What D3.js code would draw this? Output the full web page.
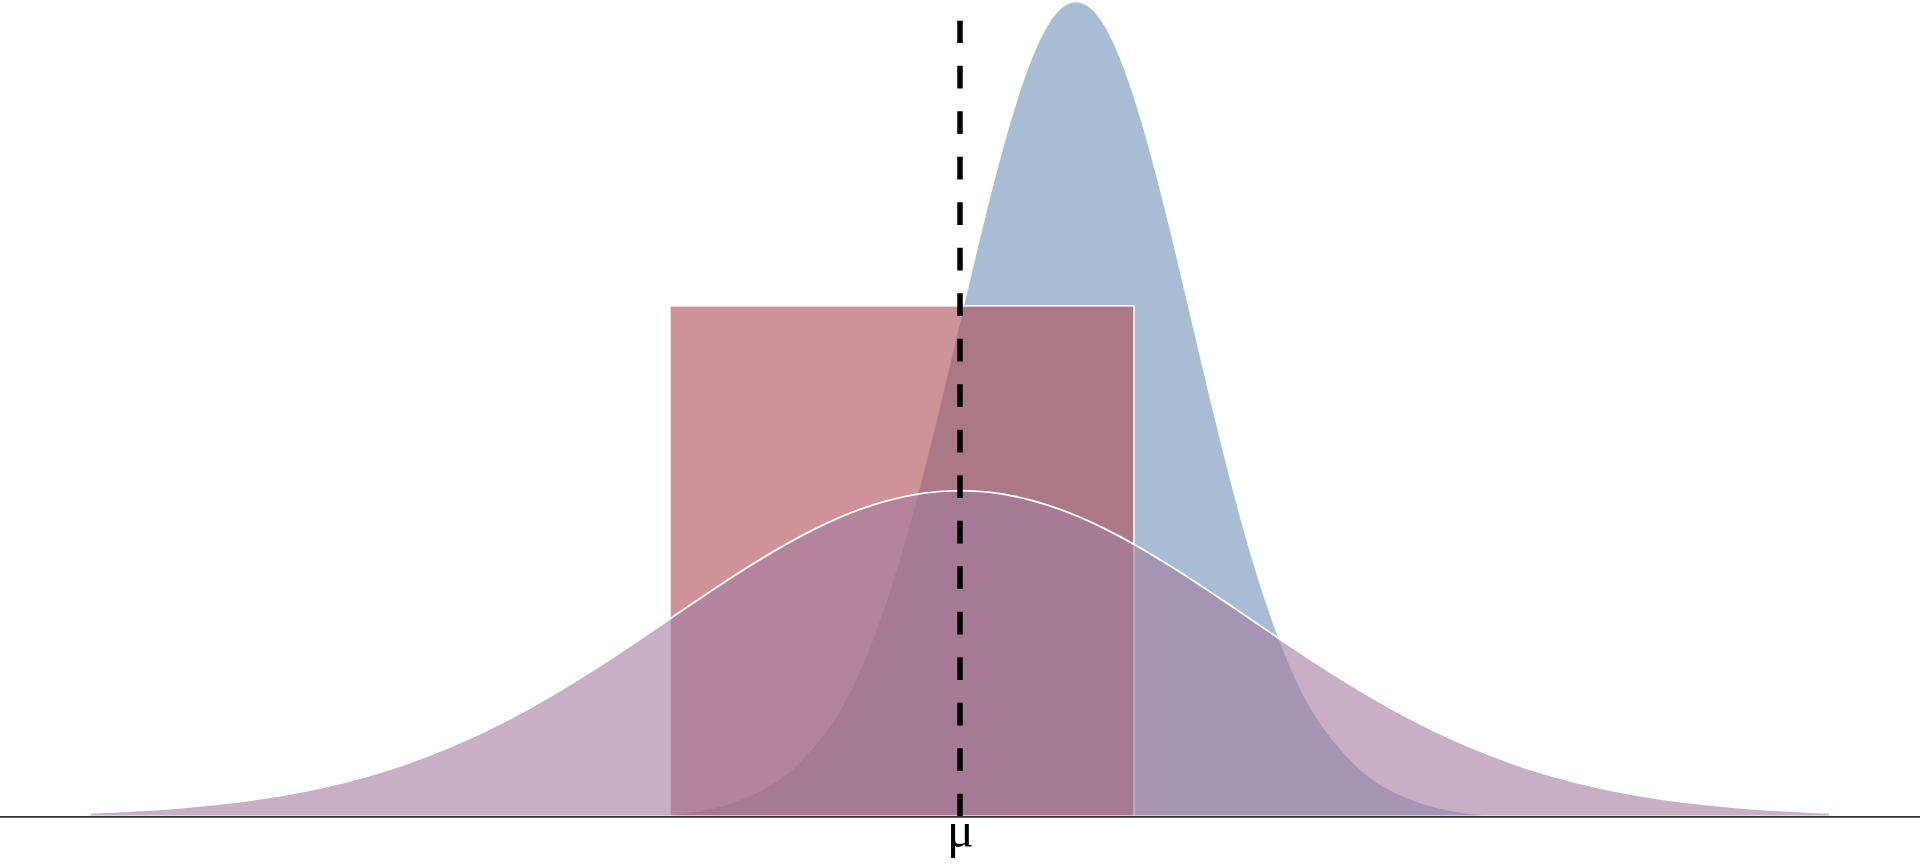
<!DOCTYPE html>
<html>
<head>
<meta charset="utf-8">
<script src="https://cdn.jsdelivr.net/npm/d3@7"></script>
<style>
  html, body { margin: 0; padding: 0; background: #ffffff; overflow: hidden; }
  svg { display: block; }
</style>
</head>
<body>
<svg id="chart" width="1920" height="864"></svg>
<script>
// ---------- data ----------
// wide curve (purple): x positions and heights
const wideX = [-3, -2.75, -2.5, -2.25, -2, -1.75, -1.5, -1.25, -1, -0.75, -0.5, -0.25, 0,
               0.25, 0.5, 0.75, 1, 1.25, 1.5, 1.75, 2, 2.25, 2.5, 2.75, 3];
const wideY = [0.0044, 0.0091, 0.0175, 0.0317, 0.054, 0.0863, 0.1295, 0.1826, 0.242, 0.3011, 0.3521, 0.3867, 0.3989,
               0.3867, 0.3521, 0.3011, 0.242, 0.1826, 0.1295, 0.0863, 0.054, 0.0317, 0.0175, 0.0091, 0.0044];

// narrow curve (blue): x positions and heights
const narrowX = [-1.0, -0.9, -0.8, -0.7, -0.6, -0.5, -0.4, -0.3, -0.2, -0.1, 0.0, 0.1, 0.2, 0.3, 0.4,
                 0.5, 0.6, 0.7, 0.8, 0.9, 1.0, 1.1, 1.2, 1.3, 1.4, 1.5, 1.6, 1.7, 1.8];
const narrowY = [0.0015, 0.0065, 0.015, 0.029, 0.051, 0.087, 0.138, 0.217, 0.324, 0.457, 0.605, 0.753, 0.880, 0.967, 0.997,
                 0.967, 0.880, 0.753, 0.605, 0.457, 0.324, 0.217, 0.138, 0.087, 0.051, 0.029, 0.015, 0.0065, 0.0015];

// rectangle (uniform block)
const blockX = [-1.0, 0.6];
const blockHeight = 0.625;

// reference line and label
const meanX = 0;
const meanLineTop = 0.974;
const tickLabels = ["\u03bc"];

// ---------- layout ----------
const W = 1920, H = 864;
const svg = d3.select("#chart");

const x = d3.scaleLinear().domain([-3.31, 3.31]).range([0, W]);
const y = d3.scaleLinear().domain([0, 1]).range([816.5, -0.5]);

const narrowPts = narrowX.map((v, i) => [v, narrowY[i]]);
const widePts = wideX.map((v, i) => [v, wideY[i]]);

const area = d3.area()
  .x(d => x(d[0]))
  .y0(y(0))
  .y1(d => y(d[1]))
  .curve(d3.curveNatural);

// blue narrow curve
svg.append("path")
  .datum(narrowPts)
  .attr("d", area)
  .attr("fill", "rgb(110,143,182)")
  .attr("fill-opacity", 0.6)
  .attr("stroke", "#ffffff")
  .attr("stroke-opacity", 0.6)
  .attr("stroke-width", 1);

// red block
svg.append("rect")
  .attr("x", x(blockX[0]))
  .attr("y", y(blockHeight))
  .attr("width", x(blockX[1]) - x(blockX[0]))
  .attr("height", y(0) - y(blockHeight))
  .attr("fill", "rgb(173,75,85)")
  .attr("fill-opacity", 0.6)
  .attr("stroke", "#ffffff")
  .attr("stroke-width", 1.5);

// purple wide curve
svg.append("path")
  .datum(widePts)
  .attr("d", area)
  .attr("fill", "rgb(163,122,158)")
  .attr("fill-opacity", 0.6)
  .attr("stroke", "#ffffff")
  .attr("stroke-width", 1.8);

// dashed mean line (drawn bottom to top)
svg.append("path")
  .attr("d", d3.line()([[x(meanX), y(0)], [x(meanX), y(meanLineTop)]]))
  .attr("stroke", "#000000")
  .attr("stroke-width", 5.5)
  .attr("stroke-dasharray", "22.75,22.75")
  .attr("fill", "none");

// baseline axis
const axis = d3.axisBottom(x)
  .tickValues([meanX])
  .tickFormat((d, i) => tickLabels[i])
  .tickSize(0)
  .tickPadding(0);

const axisG = svg.append("g")
  .attr("transform", "translate(0,816.8)")
  .call(axis);

axisG.select(".domain")
  .attr("d", `M0,0H${W}`)
  .attr("stroke", "#333333")
  .attr("stroke-width", 1.7);

axisG.selectAll(".tick text")
  .attr("font-family", "'Liberation Serif', 'DejaVu Serif', serif")
  .attr("font-size", 50)
  .attr("fill", "#000000")
  .attr("dy", null)
  .attr("y", 30);
</script>
</body>
</html>
